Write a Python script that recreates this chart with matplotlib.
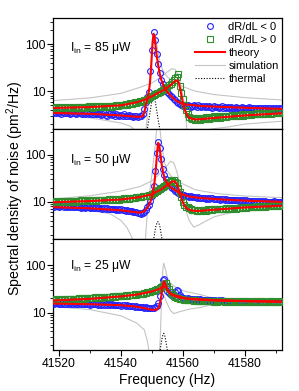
import numpy as np
import matplotlib
matplotlib.use("Agg")
import matplotlib.pyplot as plt
from matplotlib.ticker import MultipleLocator, LogLocator, NullFormatter

plt.rcParams['font.family'] = ['Liberation Sans', 'DejaVu Sans']
plt.rcParams['mathtext.fontset'] = 'custom'
plt.rcParams['mathtext.rm'] = 'Liberation Sans'
plt.rcParams['mathtext.it'] = 'Liberation Sans:italic'

############################################################################################################
# measured spectra, one point every 0.5 Hz from 41518 Hz to 41592 Hz
freq = np.arange(41518, 41592.01, 0.5)

p1_neg = [3.6,3.4,3.5,3.7,3.4,3.3,3.6,3.5,3.4,3.6,
          3.5,3.3,3.4,3.6,3.5,3.3,3.4,3.6,3.5,3.3,
          3.4,3.2,3.5,3.3,3.4,3.2,3.3,3.5,3.3,3.2,
          3.3,3.1,3.2,3.4,3.1,3.0,3.2,3.3,3.1,3.2,
          3.0,3.2,3.1,2.9,3.1,3.0,3.2,3.0,2.9,3.1,
          3.0,2.9,2.8,3.0,2.9,2.8,2.9,3.0,3.3,4.2,
          5.8,7.5,9.5,27,75,185,120,62,38,24,
          17,14,12,10.8,9.6,8.8,8.1,7.5,6.9,6.4,
          6.0,5.7,5.4,5.1,4.9,5.1,4.8,5.0,4.9,4.7,
          4.9,5.1,4.8,4.7,5.0,4.8,4.6,4.9,4.7,4.8,
          4.6,4.8,4.7,4.5,4.8,4.6,4.7,4.5,4.6,4.8,
          4.5,4.6,4.4,4.7,4.5,4.6,4.4,4.5,4.7,4.4,
          4.5,4.3,4.6,4.4,4.5,4.3,4.4,4.6,4.3,4.4,
          4.4,4.2,4.5,4.3,4.4,4.2,4.5,4.3,4.2,4.4,
          4.3,4.1,4.4,4.2,4.3,4.1,4.3,4.2,4.3]
p1_pos = [4.5,4.3,4.6,4.4,4.7,4.3,4.5,4.6,4.4,4.5,
          4.6,4.4,4.5,4.7,4.4,4.6,4.5,4.7,4.5,4.6,
          4.7,4.5,4.6,4.8,4.6,4.7,4.5,4.8,4.7,4.6,
          4.8,4.6,4.9,4.7,4.8,4.6,4.9,4.8,4.7,4.9,
          4.9,5.0,4.8,5.1,5.0,5.2,5.1,5.3,5.2,5.4,
          5.5,5.4,5.6,5.8,5.7,5.9,6.1,6.0,6.3,6.5,
          6.6,6.9,7.2,7.6,8.0,8.3,8.7,9.0,9.3,9.8,
          10.2,10.6,11.2,11.8,12.5,13.5,14.5,16,17,19,
          20,23,13,9.2,6.8,5.2,4.0,3.2,2.8,2.7,
          2.6,2.7,2.5,2.6,2.7,2.5,2.6,2.7,2.6,2.8,
          2.7,2.6,2.8,2.7,2.9,2.7,2.8,2.9,2.7,2.8,
          2.9,3.0,2.8,2.9,3.0,2.9,3.1,2.9,3.0,3.1,
          3.0,3.1,3.2,3.0,3.1,3.2,3.1,3.3,3.1,3.2,
          3.3,3.2,3.4,3.2,3.3,3.4,3.3,3.2,3.4,3.5,
          3.4,3.3,3.5,3.4,3.6,3.4,3.5,3.6,3.5]

p2_neg = [8.2,7.9,8.3,8.0,7.8,8.1,8.4,7.9,8.0,7.7,
          8.0,7.8,8.1,7.6,7.9,8.0,7.7,7.8,7.5,7.9,
          7.7,7.5,7.8,7.6,7.4,7.7,7.5,7.3,7.6,7.4,
          7.3,7.5,7.2,7.4,7.1,7.3,7.0,7.2,7.1,6.9,
          7.0,6.8,7.1,6.7,6.9,6.6,6.8,6.5,6.6,6.4,
          6.3,6.5,6.2,6.0,6.1,5.8,5.9,5.6,5.8,6.2,
          6.8,7.6,8.7,10.5,13,22,45,110,190,140,
          82,50,37,30,25,22.5,20.5,19.5,18.5,17.4,
          16.2,15.5,15.0,14.6,14.1,13.8,13.3,13.5,12.9,13.1,
          12.6,12.9,12.4,12.0,12.5,11.9,12.2,11.8,12.1,11.7,
          11.9,11.5,11.8,12.0,11.4,11.7,11.3,11.6,11.2,11.5,
          11.3,11.0,11.4,10.9,11.2,10.8,11.1,10.7,11.0,10.9,
          10.6,10.9,10.5,10.8,10.4,10.7,10.5,10.2,10.6,10.3,
          10.4,10.1,10.5,10.2,10.0,10.3,9.9,10.2,10.0,9.8,
          10.1,9.8,10.0,10.2,9.7,9.9,10.1,9.8,10.0]
p2_pos = [10.2,9.8,10.4,10.0,9.7,10.3,10.1,9.9,10.5,10.0,
          10.3,10.1,10.6,10.2,10.4,9.9,10.5,10.3,10.7,10.2,
          10.6,10.4,10.8,10.5,10.3,10.9,10.6,10.8,10.5,11.0,
          10.8,11.1,10.7,11.0,11.2,10.9,11.3,11.0,11.4,11.1,
          11.3,11.0,11.5,11.2,11.6,11.4,11.8,11.5,11.9,11.7,
          12.0,11.8,12.3,12.1,12.6,12.4,12.8,12.6,13.1,13.0,
          13.3,13.5,14.0,14.3,14.8,15.5,16.2,17.0,17.8,18.6,
          19.5,20.5,21.5,23,24.5,26,28,29.6,29,27,
          25,20,16,12.5,10,8.6,7.9,7.6,7.3,7.0,
          6.8,6.7,6.6,6.4,6.5,6.7,6.4,6.6,6.8,6.5,
          6.9,6.7,7.0,6.8,7.1,6.9,7.0,7.2,6.9,7.1,
          7.2,7.0,7.3,7.1,7.4,7.2,7.3,7.5,7.2,7.4,
          7.5,7.3,7.6,7.4,7.7,7.5,7.8,7.6,7.9,7.7,
          7.8,8.0,7.7,8.1,7.9,8.2,8.0,7.9,8.3,8.1,
          8.2,8.0,8.4,8.2,8.5,8.3,8.1,8.5,8.3]

p3_neg = [15.8,15.2,15.6,16.1,15.0,15.5,15.9,15.1,15.4,15.7,
          15.3,15.8,14.9,15.4,15.6,15.0,15.3,15.7,14.8,15.2,
          15.5,14.9,15.2,15.4,14.7,15.1,15.3,14.8,15.0,14.6,
          15.0,14.7,15.1,14.5,14.9,14.6,14.8,14.4,14.9,14.3,
          14.6,14.2,14.7,14.3,14.0,14.4,14.1,13.8,14.2,13.7,
          13.9,13.5,13.7,13.3,13.6,13.1,13.4,12.9,13.2,12.7,
          12.9,12.5,12.3,12.6,12.2,12.5,12.8,13.8,16,22,
          36,50,52,36,29,25.5,24,23,24,27,
          30,28,24,21.5,20.8,20.2,19.8,20.1,19.5,19.3,
          19.0,19.4,18.8,19.1,18.6,18.9,18.5,18.8,18.3,18.6,
          18.2,18.5,18.0,18.3,17.9,18.2,17.8,18.1,17.7,18.0,
          17.6,17.9,17.5,17.8,17.4,17.7,17.3,17.6,17.2,17.5,
          17.1,17.4,17.0,17.3,16.9,17.2,17.0,17.3,16.8,17.1,
          16.9,17.2,16.8,17.0,16.7,17.1,16.9,16.6,17.0,16.8,
          16.7,17.0,16.6,16.9,16.8,16.5,16.9,16.7,16.8]
p3_pos = [18.4,19.0,18.2,18.9,18.6,19.3,18.5,19.1,18.8,19.4,
          19.0,19.6,18.9,19.5,19.2,19.8,19.3,20.0,19.5,20.1,
          19.7,20.3,19.9,20.5,20.1,20.6,20.2,20.9,20.4,21.0,
          20.6,21.2,20.8,21.4,21.0,21.6,21.2,21.8,21.4,22.0,
          21.6,22.2,21.9,22.5,22.1,22.8,22.5,23.1,22.9,23.5,
          23.2,23.8,23.6,24.2,24.0,24.6,24.5,25.2,25.3,25.9,
          26.0,26.7,27.2,27.8,28.5,29.2,30.0,31.0,32.0,33.5,
          35,37.5,41,42,36,31,27,24.5,22.5,21.5,
          20.6,20.0,19.5,19.2,18.9,18.7,18.4,18.6,18.2,18.0,
          18.2,17.8,18.0,17.6,17.9,17.5,17.8,17.4,17.7,17.5,
          17.3,17.6,17.2,17.5,17.1,17.4,17.0,17.3,17.6,17.2,
          17.4,17.0,17.3,16.9,17.2,17.5,17.1,17.4,16.9,17.2,
          17.0,17.3,16.9,17.2,17.5,17.0,17.3,16.8,17.1,17.4,
          17.0,17.2,16.8,17.1,17.4,16.9,17.2,17.0,16.8,17.1,
          17.3,16.9,17.2,17.0,16.8,17.1,17.3,16.9,17.1]

############################################################################################################
# theory (red), simulation (gray) and thermal (dotted) curves: (frequency, value) pairs
th1_neg_f = [41518,41530,41540,41544,41546,41547,41547.5,41548,41548.5,41549,41549.3,41549.6,41549.9,41550.2,
             41550.5,41550.8,41551.1,41551.5,41552,41552.5,41553,41554,41555,41556,41557,41558,41560,41565,41570,41580,41592]
th1_neg_v = [3.45,3.3,3.05,2.9,2.85,2.95,3.5,5.0,7.0,10,14,24,50,110,
             165,150,100,60,36,24,17.5,12,9.6,8.1,7.0,6.2,5.3,4.9,4.7,4.45,4.2]
th1_pos_f = [41518,41530,41540,41545,41548,41550,41552,41554,41555,41556,41557,41557.7,41558.2,41558.7,
             41559.2,41559.7,41560.2,41560.7,41561.2,41562,41564,41566,41570,41580,41592]
th1_pos_v = [4.4,4.6,5.0,5.8,6.7,7.8,9.2,10.8,12,13.5,15.5,16.8,17,15,
             10.5,7,5,3.9,3.2,2.7,2.5,2.55,2.7,3.05,3.4]
sim1_a_f = [41518,41530,41540,41546,41550,41553,41555,41556.5,41557.5,41558.5,41559.5,41560.3,41560.9,41561.3,
            41561.7,41563,41565,41570,41575,41580,41592]
sim1_a_v = [6.3,7.2,9,12,15,20,26,30,29,22,12,6,3,1.5,
            0.5,1.0,1.4,1.6,1.75,2.0,2.3]
sim1_b_f = [41518,41525,41530,41535,41540,41543,41545,41546.5,41547.2,41547.8,41548.5,41549.2,41549.8,41550.3,
            41550.7,41551.2,41551.8,41552.5,41553.5,41555,41557,41560,41564,41570,41580,41592]
sim1_b_v = [3.1,2.9,2.7,2.4,2.1,1.8,1.4,0.8,0.5,1.0,3,12,50,140,
            175,140,80,45,28,20,15.5,12.5,10,8.5,7.3,6.5]
therm1_f = [41548,41548.5,41549,41549.5,41550,41550.5,41551,41551.5,41552,41552.5,41553]
therm1_v = [1.1,1.6,2.5,4.0,6.4,8.0,6.4,4.0,2.5,1.6,1.1]

th2_neg_f = [41518,41530,41540,41544,41546,41547.5,41548.5,41549.5,41550.2,41550.8,41551.3,41551.7,41552,41552.3,
             41552.7,41553.1,41553.6,41554.2,41555,41556,41557,41558.5,41560,41562,41565,41570,41580,41592]
th2_neg_v = [7.7,7.3,6.6,6.1,5.9,6.3,7.5,10,14,25,55,120,180,165,
             110,65,42,30,24,20.5,18.5,16,14.3,13,12.2,11.5,10.6,10]
th2_pos_f = [41518,41530,41540,41546,41550,41553,41555,41556.5,41557.3,41558,41558.7,41559.3,41559.9,41560.5,
             41561.5,41563,41565,41570,41580,41592]
th2_pos_v = [9.8,10.4,11.2,12.6,14.5,18.5,23,27,27.5,24,18,13,10,8.3,
             7.0,6.5,6.4,6.8,7.6,8.3]
sim2_a_f = [41518,41530,41540,41546,41550,41553,41555,41556,41557,41558,41559,41560,41561,41562,
            41563.5,41565,41570,41575,41580,41592]
sim2_a_v = [11.5,13.5,17,21,28,42,60,73,68,45,25,12,6.5,4,
            2.9,3.2,4.8,5.8,6.7,7.8]
sim2_b_f = [41518,41530,41536.5,41540,41542,41544,41545,41546,41547,41547.7,41548.3,41549,41550,41551,
            41551.7,41552.3,41553,41554,41555,41556.5,41558,41560,41564,41571,41580,41592]
sim2_b_v = [7.5,6.5,5.6,4.0,2.8,1.5,1.0,0.6,0.6,1.0,4,12,40,150,
            450,500,200,70,45,33,27,24,18,15,13.3,12.3]
therm2_f = [41550.3,41550.8,41551.2,41551.6,41551.9,41552.2,41552.6,41553,41553.5]
therm2_v = [1.3,2.0,2.9,3.6,3.8,3.6,2.9,2.0,1.3]

th3_neg_f = [41518,41530,41540,41545,41548,41550,41551.5,41552.3,41553,41553.5,41553.9,41554.3,41555,41556,
             41557,41558.6,41560,41562,41565.7,41570,41580,41592]
th3_neg_v = [15.5,15.0,14.3,13.3,12.2,11.4,11.5,13,22,38,46,40,30,25.5,
             23.5,22,20.5,19.6,19.0,18.3,17.5,17.0]
th3_pos_f = [41518,41530,41540,41545,41550,41552,41553.3,41554,41554.7,41555.5,41556.5,41558.6,41562,41565.7,
             41570,41580,41592]
th3_pos_v = [18,19.5,22,24,28,31,34.5,35.8,33,27,23.5,21,19.5,18.6,
             18,17.4,17.0]
sim3_a_f = [41518,41530,41540,41549.4,41551,41552,41553,41554,41555,41556,41557,41559.2,41562,41565.7,
            41570,41575,41592]
sim3_a_v = [19,20.5,22.5,25.8,28,32,30,22,15,11,9.5,10.5,11.8,12.8,
            15,16.5,17]
sim3_b_f = [41518,41530,41540,41545,41547.5,41548.5,41549.5,41550.5,41551.5,41552.3,41552.7,41553.1,41553.5,41553.8,
            41554.2,41555,41556,41557.5,41560,41562,41565.7,41570,41575,41592]
sim3_b_v = [13.4,11.5,8.5,6,4.3,2.5,1.0,0.6,0.6,1.0,3,20,80,112,
            90,55,42,35,29,27,24,20,18,17]
therm3_f = [41552.5,41552.9,41553.2,41553.5,41553.8,41554.1,41554.4,41554.7,41555.1]
therm3_v = [1.4,2.0,2.7,3.3,3.6,3.3,2.7,2.0,1.4]

powers = ["85", "50", "25"]

############################################################################################################
blue = '#2424ff'
green = '#2f8f2f'
red = '#ff0000'
gray = '#c4c4c4'

fig, axes = plt.subplots(3, 1, sharex=True, figsize=(2.99, 3.91), dpi=100)
fig.subplots_adjust(left=0.177, right=0.943, bottom=0.105, top=0.954, hspace=0)

panels = [
    (p1_neg, p1_pos, th1_neg_f, th1_neg_v, th1_pos_f, th1_pos_v, sim1_a_f, sim1_a_v, sim1_b_f, sim1_b_v, therm1_f, therm1_v),
    (p2_neg, p2_pos, th2_neg_f, th2_neg_v, th2_pos_f, th2_pos_v, sim2_a_f, sim2_a_v, sim2_b_f, sim2_b_v, therm2_f, therm2_v),
    (p3_neg, p3_pos, th3_neg_f, th3_neg_v, th3_pos_f, th3_pos_v, sim3_a_f, sim3_a_v, sim3_b_f, sim3_b_v, therm3_f, therm3_v),
]
text_y = [0.73, 0.72, 0.755]

for k, ax in enumerate(axes):
    neg, pos, tnf, tnv, tpf, tpv, saf, sav, sbf, sbv, thf, thv = panels[k]
    ax.plot(saf, sav, color=gray, lw=0.8, zorder=1)
    l_sim, = ax.plot(sbf, sbv, color=gray, lw=0.8, zorder=1, label='simulation')
    l_th, = ax.plot(thf, thv, color='k', lw=0.8, ls=(0, (1, 1.5)), zorder=2, label='thermal')
    l_neg, = ax.plot(freq, neg, 'o', ms=4.2, mfc='none', mec=blue, mew=0.8, zorder=3, label='dR/dL < 0')
    l_pos, = ax.plot(freq, pos, 's', ms=3.8, mfc='none', mec=green, mew=0.8, zorder=3, label='dR/dL > 0')
    ax.plot(tnf, tnv, color=red, lw=1.5, zorder=4)
    l_red, = ax.plot(tpf, tpv, color=red, lw=1.5, zorder=4, label='theory')

    ax.set_yscale('log')
    ax.set_ylim(1.6, 360)
    ax.set_xlim(41518, 41592)
    ax.yaxis.set_minor_locator(LogLocator(base=10, subs=np.arange(2, 10), numticks=10))
    ax.yaxis.set_minor_formatter(NullFormatter())
    ax.set_yticks([10, 100])
    ax.set_yticklabels(["10", "100"])
    ax.tick_params(axis='y', which='major', length=4, width=0.8, labelsize=8.7, pad=1.2)
    ax.tick_params(axis='y', which='minor', length=2, width=0.6)
    ax.tick_params(right=False, top=False)
    ax.xaxis.set_major_locator(MultipleLocator(20))
    ax.xaxis.set_minor_locator(MultipleLocator(10))
    if k < 2:
        ax.tick_params(axis='x', which='both', bottom=False, labelbottom=False)
    else:
        ax.tick_params(axis='x', which='major', length=4, width=0.8, labelsize=8.7, pad=2)
        ax.tick_params(axis='x', which='minor', length=2, width=0.6)
    for s in ax.spines.values():
        s.set_linewidth(0.9)

    ax.text(0.074, text_y[k], "I$_\\mathrm{in}$ = " + powers[k] + " \u03bcW", transform=ax.transAxes,
            fontsize=8.7, va='center', ha='left')

    if k == 0:
        ax.legend([l_neg, l_pos, l_red, l_sim, l_th],
                  ['dR/dL < 0', 'dR/dL > 0', 'theory', 'simulation', 'thermal'],
                  loc='upper right', bbox_to_anchor=(1.015, 1.025), frameon=False, fontsize=8,
                  handlelength=2.7, handletextpad=0.3, labelspacing=0.28, borderaxespad=0.2, numpoints=1)

fig.text(0.05, 0.518, "Spectral density of noise (pm$^\\mathrm{2}$/Hz)", rotation=90,
         ha='center', va='center', fontsize=10.2)
fig.text(0.56, 0.028, "Frequency (Hz)", ha='center', va='center', fontsize=10)

fig.savefig("out.png", dpi=100)
